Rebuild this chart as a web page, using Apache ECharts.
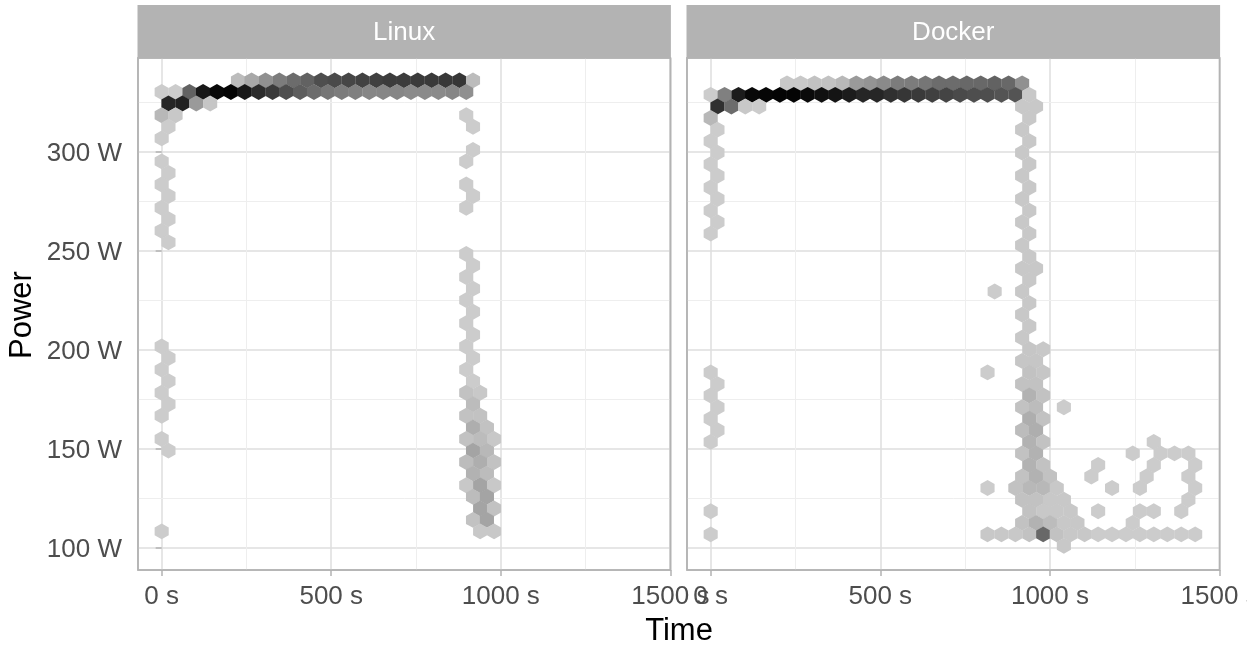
<!DOCTYPE html>
<html><head><meta charset="utf-8">
<script src="https://cdn.jsdelivr.net/npm/echarts@6/dist/echarts.min.js"></script>
<style>html,body{margin:0;padding:0;background:#fff}#c{width:1247px;height:645px}</style>
</head><body><div id="c"></div>
<script>
const panelNames = ['Linux', 'Docker'];
const timeTicks = [0, 500, 1000, 1500];
const powerTicks = [100, 150, 200, 250, 300];
const minorTimeTicks = [250, 750, 1250];
const minorPowerTicks = [125, 175, 225, 275, 325];

const topTimes = [225,265,306,347,388,429,470,510,551,592,633,673,714,755,796,837,878,918];

const linuxPower = [336.2,330.3,324.5,318.6,312.8,306.9,301.1,295.3,289.4,283.6,277.8,271.9,266.1,260.2,254.4,248.5,242.7,236.9,231.0,225.2,219.3,213.5,207.7,201.8,196.0,190.1,184.3,178.4,172.6,166.8,160.9,155.1,149.2,143.4,137.6,131.7,125.9,120.0,114.2,108.4];
const linuxTimes = [
 topTimes,
 [0,41,82,122,163,204,245,286,327,367,408,449,490,531,571,612,653,694,735,776,816,857,898],
 [20,61,102,143],[0,41,898],[20,918],[0],[918],[0,898],[20],[0,898],[20,918],[0,898],[20],[0],[20],
 [898],[918],[898],[918],[898],[918],[898],[918],
 [0,898],[20,918],[0,898],[20,918],[0,898,939],[20,918],[0,898,939],[918,959],[0,898,939,980],[20,918,959],[898,939,980],[918,959],[898,939,980],[918,959],[939,980],[918,959],[0,939,980]
];
const linuxCounts = [
 [9,19,31,41,49,54,64,66,68,70,71,73,73,74,74,75,76,9],
 [1,1,54,91,99,101,91,81,74,64,56,49,44,41,39,36,36,36,34,34,34,36,31],
 [84,86,26,4],[11,3,1],[1,1],[1],[1],[1,1],[1],[1,1],[1,1],[1,1],[1],[1],[1],
 [1],[1],[1],[1],[1],[1],[1],[1],
 [1,1],[1,1],[1,1],[1,1],[1,6,3],[1,9],[1,6,6],[16,6],[1,6,9,3],[1,21,11],[9,16,6],[14,9],[3,21,3],[9,21],[21,6],[6,21],[1,3,3]
];

const dockerPower = [334.7,328.9,323.0,317.2,311.3,305.5,299.7,293.8,288.0,282.1,276.3,270.4,264.6,258.8,252.9,247.1,241.2,235.4,229.6,223.7,217.9,212.0,206.2,200.4,194.5,188.7,182.8,177.0,171.1,165.3,159.5,153.6,147.8,141.9,136.1,130.3,124.4,118.6,112.7,106.9,101.1];
const dockerTimes = [
 topTimes,
 [0,41,82,122,163,204,245,286,327,367,408,449,490,531,571,612,653,694,735,776,816,857,898,939],
 [20,61,102,143,918,959],[0,939],[20,918],[0,939],[20,918],[0,939],[20,918],[0,939],[20,918],[0,939],[20,918],[0,939],
 [918],[939],[918,959],[939],[837,918],[939],[918],[939],[918],[939,980],[918,959],
 [0,816,939,980],[20,918,959],[0,939,980],[20,918,959,1041],[0,939,980],[20,918,959],[0,939,980,1306],
 [918,959,1244,1326,1367,1408],[939,980,1142,1306,1428],[918,959,1000,1122,1285,1408],
 [816,898,939,980,1020,1183,1265,1428],[918,959,1000,1041,1408],
 [0,939,980,1020,1061,1142,1265,1306,1387],[918,959,1000,1041,1081,1244],
 [0,816,857,898,939,980,1020,1061,1102,1142,1183,1224,1265,1306,1346,1387,1428],[1041]
];
const dockerCounts = [
 [3,3,6,6,11,26,29,34,41,41,44,49,49,51,51,54,51,31],
 [1,39,89,99,100,101,101,98,95,93,89,84,84,79,76,74,71,69,66,64,64,61,61,3],
 [79,49,3,1,3,3],[11,3],[1,3],[1,3],[1,3],[1,3],[1,3],[1,3],[1,3],[1,3],[1,3],[1,3],
 [3],[3],[3,3],[3],[1,3],[3],[3],[3],[3],[4,3],[4,4],
 [1,1,6,4],[1,6,6],[1,14,6],[1,6,9,1],[1,16,6],[1,9,16],[1,14,6,1],
 [6,14,1,1,1,1],[14,6,1,1,1],[6,14,6,1,1,1],
 [1,6,11,11,3,1,1,1],[6,6,3,3,1],
 [1,6,3,3,3,1,1,1,1],[6,14,9,3,3,1],
 [1,3,3,3,6,51,6,3,3,1,1,1,1,1,1,1,1],[3]
];

function hexData(power, times, counts) {
  const out = [];
  power.forEach((p, i) => times[i].forEach((t, j) => out.push([t, p, counts[i][j]])));
  return out;
}
const hexPath = 'path://M50 0 L100 25 L100 75 L50 100 L0 75 L0 25 Z';
const border = '#B3B3B3', major = '#DEDEDE', minor = '#EEEEEE', tickText = '#4D4D4D';
const panels = [
  {left: 138, width: 532.4},
  {left: 687, width: 532.6}
];
const gridTop = 58, gridHeight = 512;
const tickFont = 'Liberation Sans';
const hexStyle = {opacity: 1};
const hexSize = [14.1, 15.9];

const option = {
  animation: false,
  grid: panels.map(p => ({left: p.left, width: p.width, top: gridTop, height: gridHeight, show: true, borderColor: border, borderWidth: 1.5, backgroundColor: '#fff', containLabel: false, outerBoundsMode: 'none'})),
  xAxis: panels.map((p, i) => ({
    type: 'value', gridIndex: i, min: -69.8, max: 1500,
    axisLine: {show: false},
    axisTick: {show: true, length: 6, customValues: timeTicks, lineStyle: {color: border, width: 1.5}},
    axisLabel: {show: true, customValues: timeTicks, formatter: v => v + ' s', color: tickText, fontSize: 26, fontFamily: tickFont, margin: 14, hideOverlap: false, showMinLabel: true, showMaxLabel: true},
    splitLine: {show: true, lineStyle: {color: major, width: 1.5}},
    minorTick: {show: false}, minorSplitLine: {show: false}
  })),
  yAxis: panels.map((p, i) => ({
    type: 'value', gridIndex: i, min: 88.9, max: 347.5,
    axisLine: {show: false},
    axisTick: {show: i === 0, length: 6, customValues: powerTicks, lineStyle: {color: border, width: 1.5}},
    axisLabel: {show: i === 0, customValues: powerTicks, formatter: v => '{w|' + v + ' W}', margin: 16,
      rich: {w: {color: tickText, fontSize: 26, fontFamily: tickFont, padding: [4, 0, 0, 0]}}},
    splitLine: {show: true, lineStyle: {color: major, width: 1.5}},
    minorTick: {show: false}, minorSplitLine: {show: false}
  })),
  visualMap: {show: false, type: 'continuous', min: 1, max: 103, dimension: 2, seriesIndex: [2, 3], inRange: {color: ['#cccccc', '#000000']}},
  series: [
    ...panels.map((p, i) => ({
      type: 'scatter', xAxisIndex: i, yAxisIndex: i, data: [], z: 1, silent: true,
      markLine: {
        z: 1, silent: true, symbol: 'none', label: {show: false}, animation: false,
        lineStyle: {color: minor, width: 1, type: 'solid'},
        data: minorTimeTicks.map(v => ({xAxis: v})).concat(minorPowerTicks.map(v => ({yAxis: v})))
      }
    })),
    {type: 'scatter', name: panelNames[0], xAxisIndex: 0, yAxisIndex: 0, z: 3, symbol: hexPath, symbolSize: hexSize, symbolKeepAspect: false, itemStyle: hexStyle, data: hexData(linuxPower, linuxTimes, linuxCounts), encode: {x: 0, y: 1}},
    {type: 'scatter', name: panelNames[1], xAxisIndex: 1, yAxisIndex: 1, z: 3, symbol: hexPath, symbolSize: hexSize, symbolKeepAspect: false, itemStyle: hexStyle, data: hexData(dockerPower, dockerTimes, dockerCounts), encode: {x: 0, y: 1}}
  ],
  graphic: [
    ...panels.map(p => ({type: 'rect', z: 20, shape: {x: p.left, y: gridTop, width: p.width, height: gridHeight}, style: {fill: 'none', stroke: border, lineWidth: 1.6}, silent: true})),
    ...panels.map(p => ({type: 'rect', z: 21, shape: {x: p.left - 0.5, y: 5, width: p.width + 1, height: 53}, style: {fill: border}, silent: true})),
    ...panels.map((p, i) => ({type: 'text', z: 22, x: p.left + p.width / 2, y: 33, style: {text: panelNames[i], fill: '#ffffff', font: '26px "Liberation Sans"', textAlign: 'center', textVerticalAlign: 'middle'}, silent: true})),
    {type: 'text', x: 679, y: 631, style: {text: 'Time', fill: '#000', font: '31px "Liberation Sans"', textAlign: 'center', textVerticalAlign: 'middle'}, silent: true},
    {type: 'text', x: 22, y: 315, rotation: Math.PI / 2, style: {text: 'Power', fill: '#000', font: '31px "Liberation Sans"', textAlign: 'center', textVerticalAlign: 'middle'}, silent: true}
  ]
};
echarts.init(document.getElementById('c'), null, {renderer: 'canvas'}).setOption(option);
</script></body></html>
